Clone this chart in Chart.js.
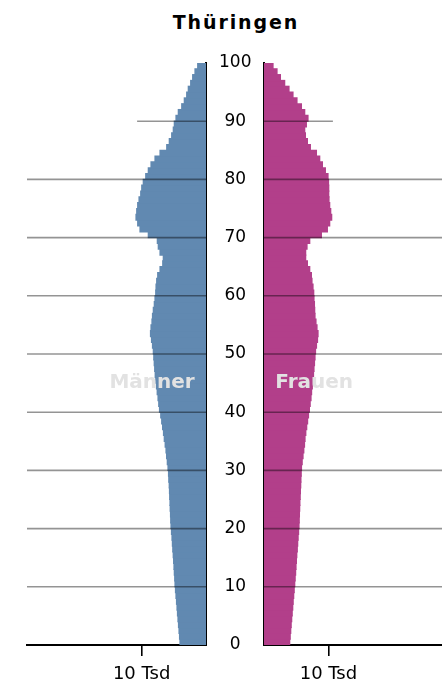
<!DOCTYPE html>
<html>
<head>
<meta charset="utf-8">
<script src="https://cdn.jsdelivr.net/npm/chart.js@4.4.1/dist/chart.umd.min.js"></script>
<style>
  body { margin: 0; background: #fff; }
  #wrap { position: relative; width: 442px; height: 682px; overflow: hidden; }
  #title {
    position: absolute; left: 135px; top: 13px; width: 200px; padding-left: 2px; box-sizing: border-box;
    text-align: center; font: bold 19px "DejaVu Sans"; line-height: 19px; letter-spacing: 1.9px; color: #000;
  }
  #men { position: absolute; left: 0; top: 0; }
  #women { position: absolute; left: 254px; top: 0; }
</style>
</head>
<body>
<div id="wrap">
  <div id="title">Thüringen</div>
  <canvas id="men" width="264" height="682"></canvas>
  <canvas id="women" width="188" height="682"></canvas>
</div>
<script>
// Einwohner je Altersjahr (0 bis 99), in Tausend
const ages = Array.from({ length: 100 }, (_, i) => i);
const maenner = [
  4.04, 4.11, 4.19, 4.27, 4.35, 4.43, 4.50, 4.58, 4.66, 4.74,
  4.81, 4.86, 4.92, 4.97, 5.03, 5.09, 5.16, 5.22, 5.28, 5.36,
  5.43, 5.48, 5.51, 5.56, 5.59, 5.64, 5.67, 5.71, 5.78, 5.82,
  5.90, 6.01, 6.12, 6.21, 6.34, 6.48, 6.60, 6.74, 6.88, 7.03,
  7.22, 7.34, 7.45, 7.58, 7.69, 7.80, 7.89, 7.97, 8.04, 8.11,
  8.18, 8.31, 8.46, 8.62, 8.54, 8.39, 8.31, 8.18, 8.03, 7.92,
  7.81, 7.76, 7.66, 7.50, 7.14, 6.72, 6.63, 7.14, 7.41, 7.56,
  8.96, 10.25, 10.61, 10.87, 10.76, 10.61, 10.40, 10.14, 9.98, 9.74,
  9.36, 8.96, 8.54, 7.92, 7.14, 6.10, 5.70, 5.33, 5.08, 4.92,
  4.66, 4.30, 3.77, 3.37, 3.00, 2.75, 2.38, 2.07, 1.71, 1.29
];
const frauen = [
  3.99, 4.07, 4.15, 4.22, 4.30, 4.38, 4.46, 4.53, 4.61, 4.69,
  4.77, 4.84, 4.91, 4.97, 5.03, 5.09, 5.17, 5.23, 5.30, 5.37,
  5.43, 5.47, 5.50, 5.54, 5.57, 5.62, 5.65, 5.70, 5.73, 5.78,
  5.82, 5.93, 6.06, 6.18, 6.29, 6.37, 6.49, 6.63, 6.77, 6.91,
  7.05, 7.17, 7.30, 7.39, 7.50, 7.61, 7.69, 7.76, 7.84, 7.92,
  8.00, 8.15, 8.31, 8.39, 8.23, 8.07, 7.92, 7.87, 7.83, 7.76,
  7.72, 7.61, 7.45, 7.36, 7.10, 6.74, 6.47, 6.47, 6.68, 7.10,
  8.91, 9.84, 10.20, 10.51, 10.36, 10.20, 10.09, 10.05, 10.05, 10.02,
  9.94, 9.53, 9.07, 8.65, 8.14, 7.20, 6.74, 6.43, 6.32, 6.58,
  6.83, 6.32, 5.81, 5.12, 4.50, 3.88, 3.21, 2.55, 2.02, 1.40
];
const ageTicks = [0, 10, 20, 30, 40, 50, 60, 70, 80, 90, 100];
const gridAges = [10, 20, 30, 40, 50, 60, 70, 80, 90];
const valueTicks = [10];
const valueTickLabel = '10 Tsd';

const shortGridAge = 90;   // diese Linie reicht nur bis 10,7 Tsd
const shortGridReach = 10.7;

const toPoints = vals => ages.map((a, i) => ({ x: vals[i], y: a + 0.5 }));

const gridAndLabel = {
  id: 'gridAndLabel',
  afterDatasetsDraw(chart, args, opts) {
    const { ctx, chartArea } = chart;
    const { x, y } = chart.scales;
    ctx.save();
    ctx.strokeStyle = 'rgba(0,0,0,0.42)';
    ctx.lineWidth = 1.6;
    gridAges.forEach(a => {
      const py = y.getPixelForValue(a);
      let x0 = chartArea.left, x1 = chartArea.right;
      if (a === shortGridAge) {
        const px = x.getPixelForValue(shortGridReach);
        if (opts.side === 'left') x0 = px; else x1 = px;
      }
      ctx.beginPath();
      ctx.moveTo(x0, py);
      ctx.lineTo(x1, py);
      ctx.stroke();
    });
    ctx.fillStyle = '#e2e2e2';
    ctx.font = 'bold 20px "DejaVu Sans"';
    ctx.textBaseline = 'alphabetic';
    ctx.textAlign = opts.side === 'left' ? 'right' : 'left';
    ctx.fillText(opts.text, x.getPixelForValue(1.75), y.getPixelForValue(44.1));
    ctx.restore();
  }
};

function makeChart(id, values, color, side) {
  const left = side === 'left';
  return new Chart(document.getElementById(id), {
    type: 'bar',
    data: {
      datasets: [{
        data: toPoints(values),
        backgroundColor: color,
        borderWidth: 0,
        inflateAmount: 0.6,
        barPercentage: 1,
        categoryPercentage: 1
      }]
    },
    options: {
      indexAxis: 'y',
      responsive: false,
      animation: false,
      events: [],
      layout: { padding: { left: left ? 27 : 10, top: 63, right: 0, bottom: 0 } },
      plugins: {
        legend: { display: false },
        tooltip: { enabled: false },
        gridAndLabel: { side, text: left ? 'Männer' : 'Frauen' }
      },
      scales: {
        y: {
          type: 'linear',
          position: left ? 'right' : 'left',
          min: 0, max: 100,
          offset: false,
          z: 1,
          afterBuildTicks: s => { s.ticks = ageTicks.map(v => ({ value: v })); },
          afterFit: s => { s.width = left ? 58 : 0; },
          grid: { display: false, drawTicks: false, offset: false },
          border: { display: true, color: '#000', width: 2 },
          ticks: {
            display: left,
            crossAlign: 'center',
            padding: 13,
            color: '#000',
            font: { family: 'DejaVu Sans', size: 17 }
          }
        },
        x: {
          type: 'linear',
          reverse: left,
          min: 0,
          max: left ? 27.8 : 27.64,
          z: 1,
          afterBuildTicks: s => { s.ticks = valueTicks.map(v => ({ value: v })); },
          afterFit: s => { s.height = 37; },
          grid: { drawOnChartArea: false, drawTicks: true, tickLength: 11, color: '#000', lineWidth: 1.6 },
          border: { display: true, color: '#000', width: 2 },
          ticks: {
            padding: 8,
            color: '#000',
            maxRotation: 0,
            font: { family: 'DejaVu Sans', size: 18 },
            callback: () => valueTickLabel
          }
        }
      }
    },
    plugins: [gridAndLabel]
  });
}

makeChart('men', maenner, '#6189B1', 'left');
makeChart('women', frauen, '#B23F8A', 'right');
</script>
</body>
</html>
